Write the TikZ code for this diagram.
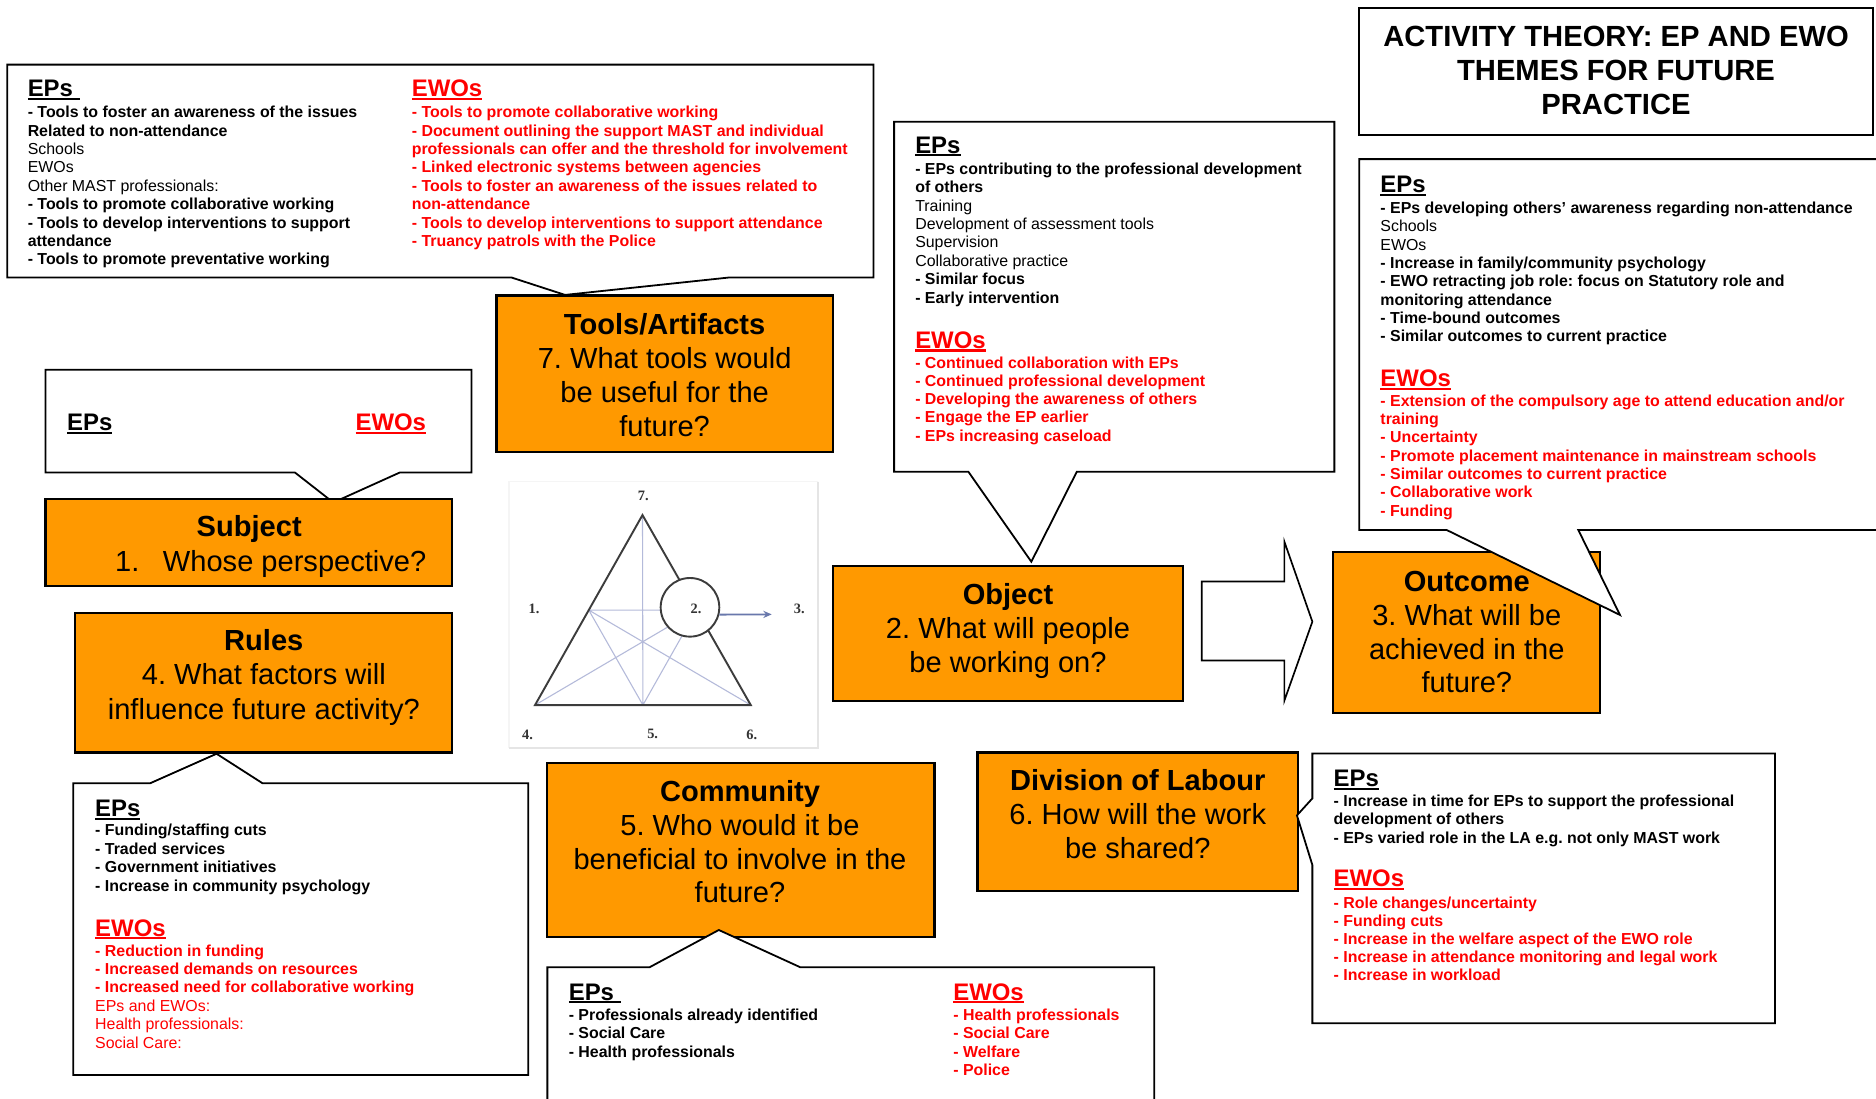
\documentclass[tikz,border=0pt]{standalone}
\usepackage{fontspec}
\setmainfont{Liberation Sans}
\newfontfamily\numfont{Liberation Serif}
\usetikzlibrary{arrows.meta}
\frenchspacing

\definecolor{boxorange}{RGB}{255,153,0}
\definecolor{trigray}{RGB}{60,60,60}
\definecolor{starline}{RGB}{180,186,218}
\definecolor{arrowblue}{RGB}{105,120,172}

% thick underline for the column headings
\newcommand\hd[1]{\setbox0\hbox{#1}\rlap{\rule[-2.6pt]{\wd0}{1.7pt}}\box0}
% a column of text lines: options, name, x, first baseline, line step, lines
\newcommand\tlines[6]{\foreach \tl [count=\k from 0] in {#6}{\node[#1] (#2-\k) at (#3,{#4+#5*\k}) {\tl};}}

\begin{document}
\begin{tikzpicture}[x=1pt,y=-1pt,
  li/.style={anchor=base west, inner sep=0pt, font=\fontsize{13.3}{15.35}\selectfont},
  hdg/.style={anchor=base west, inner sep=0pt, font=\fontsize{20}{24}\selectfont\bfseries},
  qline/.style={anchor=base, inner sep=0pt, font=\fontsize{24.3}{28}\selectfont},
  obox/.style={draw=black, fill=boxorange, line width=1.8pt, inner sep=0pt},
  callout/.style={draw=black, fill=white, line width=1.5pt, line join=miter},
  num/.style={inner sep=0pt, font=\numfont\bfseries\fontsize{12}{12}\selectfont, text=black!80},
]
\useasboundingbox[fill=white] (0,0) rectangle (1568,918);

% ---------------- title ----------------
\node[draw=black, line width=1.5pt, fill=white, minimum width=429.3pt, minimum height=106pt, inner sep=0pt] (title) at (1350.65,60) {};
\tlines{qline, font=\fontsize{24.4}{28}\selectfont\bfseries}{ttl}{1350.7}{38.5}{28.5}{ACTIVITY THEORY: EP AND EWO, THEMES FOR FUTURE, PRACTICE}

% ---------------- tools callout (top left) ----------------
\path[callout] (6,54) -- (730,54) -- (730,232) -- (608.8,232) -- (472.3,246.5) -- (427.7,232) -- (6,232) -- cycle;
\node[hdg] (tl-ep) at (23,81) {\hd{EPs\ }};
\node[hdg, text=red] (tl-ewo) at (344,81) {\hd{EWOs}};
\tlines{li}{tl-epl}{23}{98.5}{15.35}{{\textbf{- Tools to foster an awareness of the issues}},{\textbf{Related to non-attendance}},{Schools},{EWOs},{Other MAST professionals:},{\textbf{- Tools to promote collaborative working}},{\textbf{- Tools to develop interventions to support}},{\textbf{attendance}},{\textbf{- Tools to promote preventative working}}}
\tlines{li, text=red, font=\fontsize{13.3}{15.35}\selectfont\bfseries}{tl-ewol}{344}{98.5}{15.35}{{- Tools to promote collaborative working},{- Document outlining the support MAST and individual},{professionals can offer and the threshold for involvement},{- Linked electronic systems between agencies},{- Tools to foster an awareness of the issues related to},{non-attendance},{- Tools to develop interventions to support attendance},{- Truancy patrols with the Police}}

% ---------------- tools / artifacts ----------------
\node[obox, minimum width=281pt, minimum height=131pt] (tools) at (555.5,312.5) {};
\tlines{qline}{tools-t}{555.5}{279.5}{28.4}{{\textbf{Tools/Artifacts}},{7. What tools would},{be useful for the},{future?}}

% ---------------- subject ----------------
\path[callout] (38,309) -- (394,309) -- (394,395) -- (334,395) -- (278.6,420) -- (246.6,395) -- (38,395) -- cycle;
\node[hdg] (sb-ep) at (56,360) {\hd{EPs}};
\node[hdg, text=red] (sb-ewo) at (297,360) {\hd{EWOs}};
\node[obox, minimum width=339.5pt, minimum height=73pt] (subject) at (207.75,453.5) {};
\node[qline, font=\fontsize{24.3}{28}\selectfont\bfseries] (subject-t) at (208.3,448.5) {Subject};
\node[qline, anchor=base west] (subject-n) at (96,478) {1.};
\node[qline, anchor=base west] (subject-q) at (136,478) {Whose perspective?};

% ---------------- rules ----------------
\path[callout] (61.3,654.7) -- (125.4,654.7) -- (181,630) -- (219.5,654.7) -- (441.6,654.7) -- (441.6,898.5) -- (61.3,898.5) -- cycle;
\node[obox, minimum width=315.3pt, minimum height=116.4pt] (rules) at (220.35,570.8) {};
\tlines{qline}{rules-t}{220.5}{543.5}{29}{{\textbf{Rules}},{4. What factors will},{influence future activity?}}
\node[hdg] (rl-ep) at (79.4,682.5) {\hd{EPs}};
\tlines{li, font=\fontsize{13.3}{15.35}\selectfont\bfseries}{rl-epl}{79.4}{698.5}{15.5}{{- Funding/staffing cuts},{- Traded services},{- Government initiatives},{- Increase in community psychology}}
\node[hdg, text=red] (rl-ewo) at (79.4,782.4) {\hd{EWOs}};
\tlines{li, text=red}{rl-ewol}{79.4}{799.1}{15.4}{{\textbf{- Reduction in funding}},{\textbf{- Increased demands on resources}},{\textbf{- Increased need for collaborative working}},{EPs and EWOs:},{Health professionals:},{Social Care:}}

% ---------------- activity triangle ----------------
\draw[black!4, line width=1.2pt] (425.6,625) -- (425.6,402.6) -- (684,402.6);
\draw[black!10, line width=1.5pt] (684,402.6) -- (684,625) -- (425.6,625);
\coordinate (A) at (537,430.5);
\coordinate (B) at (447.2,589.3);
\coordinate (C) at (627.5,589.3);
\coordinate (AB) at (492.1,509.9);
\coordinate (BC) at (537.35,589.3);
\coordinate (CA) at (582.25,509.9);
\draw[starline, line width=0.9pt] (A) -- (BC) (AB) -- (BC) (AB) -- (C) (AB) -- (CA) (B) -- (CA) (BC) -- (CA);
\draw[trigray, line width=1.6pt, line join=miter] (A) -- (B) -- (C) -- cycle;
\node[circle, draw=trigray, line width=1.6pt, fill=white, minimum size=49pt, inner sep=0pt] (circ) at (576.7,507.6) {};
\coordinate (arrowend) at (645,513.5);
\draw[arrowblue, line width=1.5pt, -{Stealth[length=7pt,width=6pt]}] (circ.-14) -- (arrowend);
\node[num] (n7) at (537.6,414.6) {7.};
\node[num] (n1) at (446.3,509) {1.};
\node[num] (n2) at (581.7,509) {2.};
\node[num] (n3) at (668,509) {3.};
\node[num] (n4) at (441,613.8) {4.};
\node[num] (n5) at (545.5,613.8) {5.};
\node[num] (n6) at (628.3,613.8) {6.};

% ---------------- object ----------------
\path[callout] (747.3,101.7) -- (1115.3,101.7) -- (1115.3,394.3) -- (900,394.3) -- (862,469.5) -- (809.4,394.3) -- (747.3,394.3) -- cycle;
\node[hdg] (ob-ep) at (764.8,128.2) {\hd{EPs}};
\tlines{li}{ob-epl}{764.8}{145.8}{15.36}{{\textbf{- EPs contributing to the professional development}},{\textbf{of others}},{Training},{Development of assessment tools},{Supervision},{Collaborative practice},{\textbf{- Similar focus}},{\textbf{- Early intervention}}}
\node[hdg, text=red] (ob-ewo) at (764.8,291.2) {\hd{EWOs}};
\tlines{li, text=red, font=\fontsize{13.3}{15.35}\selectfont\bfseries}{ob-ewol}{764.8}{307.6}{15.3}{{- Continued collaboration with EPs},{- Continued professional development},{- Developing the awareness of others},{- Engage the EP earlier},{- EPs increasing caseload}}
\node[obox, minimum width=293pt, minimum height=112.6pt] (object) at (842.5,529.3) {};
\tlines{qline}{object-t}{842.5}{505.5}{28.2}{{\textbf{Object}},{2. What will people},{be working on?}}

% ---------------- block arrow towards the outcome ----------------
\path[draw=black, fill=white, line width=1.4pt, line join=miter] (1004.4,486) -- (1073.5,486) -- (1073.5,452.7) -- (1096.9,519.6) -- (1073.5,585.6) -- (1073.5,552) -- (1004.4,552) -- cycle;

% ---------------- outcome ----------------
\node[obox, minimum width=223.6pt, minimum height=134.2pt] (outcome) at (1225.8,528.6) {};
\tlines{qline}{outcome-t}{1226}{494.5}{28.2}{{\textbf{Outcome}},{3. What will be},{achieved in the},{future?}}
\path[callout] (1575,133) -- (1136,133) -- (1136,443) -- (1209.2,443) -- (1354,514) -- (1319.2,443) -- (1575,443);
\node[hdg] (oc-ep) at (1153.6,161) {\hd{EPs}};
\tlines{li}{oc-epl}{1153.6}{178.5}{15.3}{{\textbf{- EPs developing others’ awareness regarding non-attendance}},{Schools},{EWOs},{\textbf{- Increase in family/community psychology}},{\textbf{- EWO retracting job role: focus on Statutory role and}},{\textbf{monitoring attendance}},{\textbf{- Time-bound outcomes}},{\textbf{- Similar outcomes to current practice}}}
\node[hdg, text=red] (oc-ewo) at (1153.6,323) {\hd{EWOs}};
\tlines{li, text=red, font=\fontsize{13.3}{15.35}\selectfont\bfseries}{oc-ewol}{1153.6}{339.5}{15.3}{{- Extension of the compulsory age to attend education and/or},{training},{- Uncertainty},{- Promote placement maintenance in mainstream schools},{- Similar outcomes to current practice},{- Collaborative work},{- Funding}}

% ---------------- community ----------------
\node[obox, minimum width=323.5pt, minimum height=145.4pt] (community) at (619.25,710.2) {};
\tlines{qline}{community-t}{618.5}{670}{28.2}{{\textbf{Community}},{5. Who would it be},{beneficial to involve in the},{future?}}
\path[callout] (457.5,925) -- (457.5,808.5) -- (542.8,808.5) -- (600.8,777.3) -- (669,808.5) -- (964.8,808.5) -- (964.8,925);
\node[hdg] (cm-ep) at (475.2,836) {\hd{EPs\ }};
\tlines{li, font=\fontsize{13.3}{15.35}\selectfont\bfseries}{cm-epl}{475.2}{852.9}{15.3}{{- Professionals already identified},{- Social Care},{- Health professionals}}
\node[hdg, text=red] (cm-ewo) at (796.6,836) {\hd{EWOs}};
\tlines{li, text=red, font=\fontsize{13.3}{15.35}\selectfont\bfseries}{cm-ewol}{796.6}{852.9}{15.3}{{- Health professionals},{- Social Care},{- Welfare},{- Police}}

% ---------------- division of labour ----------------
\node[obox, minimum width=268pt, minimum height=115.5pt] (division) at (951,686.75) {};
\tlines{qline}{division-t}{951}{660.5}{28.7}{{\textbf{Division of Labour}},{6. How will the work},{be shared?}}
\path[callout] (1096.9,629.7) -- (1483.6,629.7) -- (1483.6,855.3) -- (1096.9,855.3) -- (1096.9,723) -- (1084,681.5) -- (1096.9,667.3) -- cycle;
\node[hdg] (dv-ep) at (1114.5,657.6) {\hd{EPs}};
\tlines{li, font=\fontsize{13.3}{15.35}\selectfont\bfseries}{dv-epl}{1114.5}{673.7}{15.5}{{- Increase in time for EPs to support the professional},{development of others},{- EPs varied role in the LA e.g. not only MAST work}}
\node[hdg, text=red] (dv-ewo) at (1114.5,741.2) {\hd{EWOs}};
\tlines{li, text=red, font=\fontsize{13.3}{15.35}\selectfont\bfseries}{dv-ewol}{1114.5}{759}{15.2}{{- Role changes/uncertainty},{- Funding cuts},{- Increase in the welfare aspect of the EWO role},{- Increase in attendance monitoring and legal work},{- Increase in workload}}

\end{tikzpicture}
\end{document}
